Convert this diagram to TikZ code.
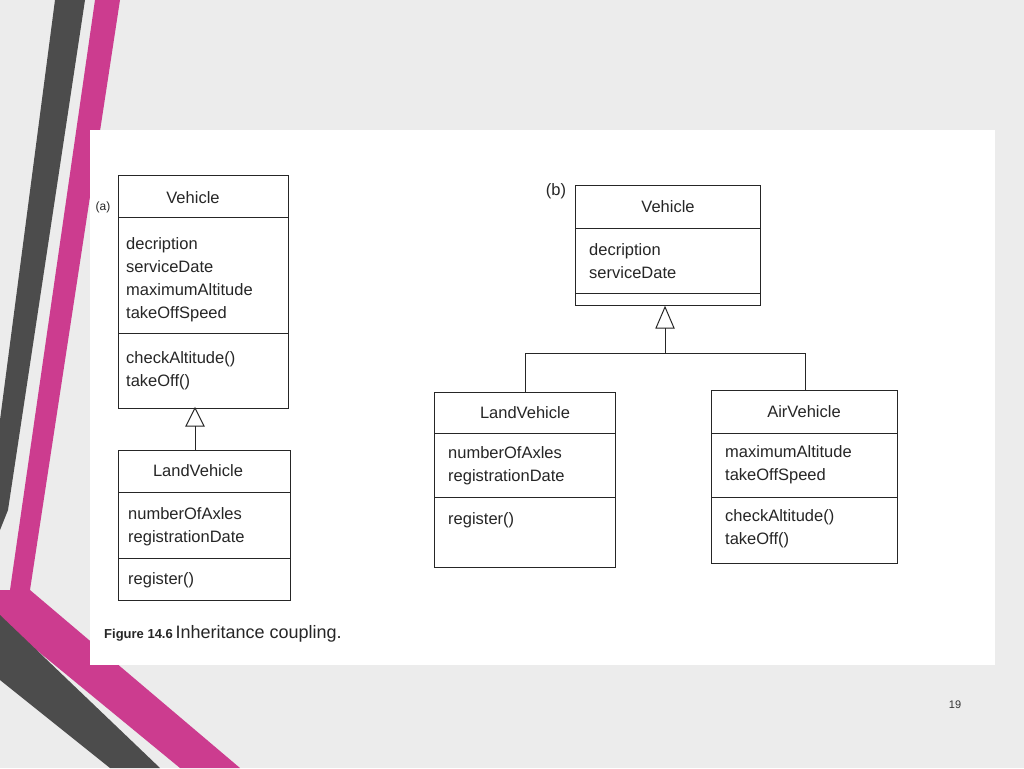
\documentclass[tikz,border=0pt]{standalone}
\usepackage{fontspec}
\setmainfont{Liberation Sans}
\begin{document}
\begin{tikzpicture}[x=1pt,y=-1pt,
  box/.style={draw=black!85,line width=1pt},
  txt/.style={anchor=west,inner sep=0pt,font=\fontsize{16.5}{23}\selectfont,align=left,text=black!85},
  ttl/.style={inner sep=0pt,font=\fontsize{16.5}{20}\selectfont,text=black!85},
  ln/.style={draw=black!85,line width=1pt}]
\fill[gray!15] (0,0) rectangle (1024,768);
\useasboundingbox (0,0) rectangle (1024,768);
% decorations
\fill[black!70] (55,0) -- (85,0) -- (8,510) -- (0,530) -- (0,420) -- cycle;
\fill[magenta!80!black!90] (95,0) -- (120,0) -- (30,590) -- (10,590) -- cycle;
\fill[magenta!80!black!90] (0,590) -- (30,590) -- (240,768) -- (180,768) -- (0,620) -- cycle;
\fill[black!70] (0,615) -- (160,768) -- (110,768) -- (0,680) -- cycle;
% panel
\fill[white] (90,130) rectangle (995,665);
% (a)
\node[ttl,font=\fontsize{12}{14}\selectfont] (la) at (103,207) {(a)};
\draw[box] (118,175) rectangle (288,408);
\draw[ln] (118,217) -- (288,217) (118,333) -- (288,333);
\node[ttl] (av) at (193,198) {Vehicle};
\node[txt] (aat) at (126,280) {decription\\serviceDate\\maximumAltitude\\takeOffSpeed};
\node[txt] (aop) at (126,371) {checkAltitude()\\takeOff()};
\coordinate (atip) at (195,408);
\draw[ln] (atip) -- (186,426) -- (204,426) -- cycle;
\draw[ln] (195,426) -- (195,450);
\draw[box] (118,450) rectangle (290,600);
\draw[ln] (118,492) -- (290,492) (118,558) -- (290,558);
\node[ttl] (alv) at (198,471) {LandVehicle};
\node[txt] (aat2) at (128,527) {numberOfAxles\\registrationDate};
\node[txt] (aop2) at (128,580) {register()};
% (b)
\node[ttl] (lb) at (556,191) {(b)};
\draw[box] (575,185) rectangle (760,305);
\draw[ln] (575,228) -- (760,228) (575,293) -- (760,293);
\node[ttl] (bv) at (668,207) {Vehicle};
\node[txt] (bat) at (589,261) {decription\\serviceDate};
\draw[ln] (665,307) -- (656,328) -- (674,328) -- cycle;
\draw[ln] (665,328) -- (665,353) (525,353) -- (805,353) (525,353) -- (525,392) (805,353) -- (805,390);
\draw[box] (434,392) rectangle (615,567);
\draw[ln] (434,433) -- (615,433) (434,497) -- (615,497);
\node[ttl] (blv) at (525,413) {LandVehicle};
\node[txt] (bat2) at (448,466) {numberOfAxles\\registrationDate};
\node[txt] (bop2) at (448,520) {register()};
\draw[box] (711,390) rectangle (897,563);
\draw[ln] (711,433) -- (897,433) (711,497) -- (897,497);
\node[ttl] (bav) at (804,412) {AirVehicle};
\node[txt] (bat3) at (725,465) {maximumAltitude\\takeOffSpeed};
\node[txt] (bop3) at (725,529) {checkAltitude()\\takeOff()};
% caption
\node[anchor=west,inner sep=0pt,text=black!85] (cap) at (104,634) {{\fontsize{13}{15}\selectfont\bfseries Figure 14.6}\ \fontsize{18}{21}\selectfont Inheritance coupling.};
\node[inner sep=0pt,font=\fontsize{11}{13}\selectfont,text=black!80] (pg) at (955,705) {19};
\end{tikzpicture}
\end{document}
